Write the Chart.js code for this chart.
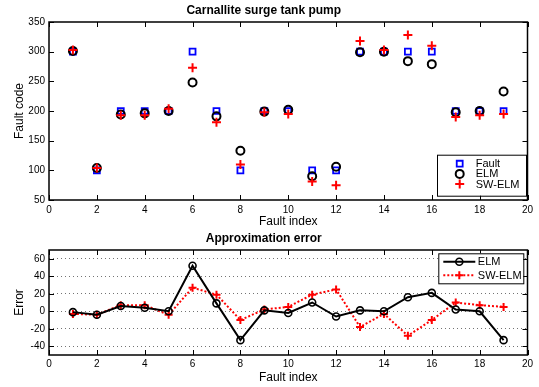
<!DOCTYPE html>
<html lang="en">
<head>
    <meta charset="UTF-8">
    <title>Carnallite surge tank pump</title>
    <script src="https://cdn.jsdelivr.net/npm/chart.js"></script>
    <style>
        body { margin: 0; background: #fff; }
        .plot { position: absolute; left: 0; width: 539px; }
        #top { top: 0; height: 229px; }
        #bottom { top: 229px; height: 158px; }
    </style>
</head>
<body>
    <div class="plot" id="top"><canvas id="faultChart"></canvas></div>
    <div class="plot" id="bottom"><canvas id="errorChart"></canvas></div>

    <script>
        // values
        const faultIndex = [1, 2, 3, 4, 5, 6, 7, 8, 9, 10, 11, 12, 13, 14, 15, 16, 17, 18, 19];
        const faultCode  = [300, 100, 200, 200, 200, 300, 200, 100, 200, 200, 100, 100, 300, 300, 300, 300, 200, 200, 200];
        const elmOut     = [301, 104, 194, 196, 200, 248, 191, 133, 199, 202, 90, 106, 299, 300, 284, 279, 198, 200, 233];
        const swElmOut   = [303, 104, 193, 193, 204, 273, 181, 110, 198, 195, 81, 75, 318, 303, 328, 310, 190, 193, 195];
        const elmErr     = [-1, -4, 6, 4, 0, 52, 9, -33, 1, -2, 10, -6, 1, 0, 16, 21, 2, 0, -33];
        const swElmErr   = [-3, -4, 7, 7, -4, 27, 19, -10, 2, 5, 19, 25, -18, -3, -28, -10, 10, 7, 5];

        const xTicks = [0, 2, 4, 6, 8, 10, 12, 14, 16, 18, 20];
        const codeTicks = [50, 100, 150, 200, 250, 300, 350];
        const errTicks = [-40, -20, 0, 20, 40, 60];

        Chart.defaults.font.family = "'Liberation Sans', Arial, sans-serif";
        Chart.defaults.color = '#000';

        const pts = (ys) => faultIndex.map((x, i) => ({ x: x, y: ys[i] }));
        const fixTicks = (vals) => (scale) => { scale.ticks = vals.map(v => ({ value: v })); };

        // matlab style box with inward ticks
        const axesBox = {
            id: 'axesBox',
            beforeDatasetsDraw(chart) {
                const { ctx, chartArea: a, scales: { x, y } } = chart;
                const tl = 5;
                ctx.save();
                ctx.strokeStyle = '#000';
                ctx.lineWidth = 1;
                ctx.beginPath();
                x.ticks.forEach(t => {
                    const px = Math.round(x.getPixelForValue(t.value)) + 0.5;
                    ctx.moveTo(px, a.bottom); ctx.lineTo(px, a.bottom - tl);
                    ctx.moveTo(px, a.top); ctx.lineTo(px, a.top + tl);
                });
                y.ticks.forEach(t => {
                    const py = Math.round(y.getPixelForValue(t.value)) + 0.5;
                    ctx.moveTo(a.left, py); ctx.lineTo(a.left + tl, py);
                    ctx.moveTo(a.right, py); ctx.lineTo(a.right - tl, py);
                });
                ctx.stroke();
                ctx.lineWidth = 1.5;
                ctx.strokeRect(a.left, a.top, a.right - a.left, a.bottom - a.top);
                ctx.restore();
            }
        };

        function drawMarker(ctx, style, x, y, r, color, w) {
            ctx.save();
            ctx.strokeStyle = color;
            ctx.lineWidth = w;
            ctx.beginPath();
            if (style === 'rect') {
                const s = r * Math.SQRT1_2;
                ctx.rect(x - s, y - s, 2 * s, 2 * s);
            } else if (style === 'circle') {
                ctx.arc(x, y, r, 0, Math.PI * 2);
            } else {
                ctx.moveTo(x - r, y); ctx.lineTo(x + r, y);
                ctx.moveTo(x, y - r); ctx.lineTo(x, y + r);
            }
            ctx.stroke();
            ctx.restore();
        }

        // legend with a frame, placed inside the axes
        function boxLegend(cfg) {
            return {
                id: 'boxLegend',
                afterDraw(chart) {
                    const { ctx, chartArea: a } = chart;
                    const x0 = a.right - cfg.right - cfg.width;
                    const y0 = cfg.top != null ? a.top + cfg.top : a.bottom - cfg.bottom - cfg.height;
                    ctx.save();
                    ctx.fillStyle = '#fff';
                    ctx.fillRect(x0, y0, cfg.width, cfg.height);
                    ctx.strokeStyle = '#000';
                    ctx.lineWidth = 1;
                    ctx.strokeRect(x0 + 0.5, y0 + 0.5, cfg.width, cfg.height);
                    ctx.font = "11px 'Liberation Sans', Arial, sans-serif";
                    ctx.textBaseline = 'middle';
                    ctx.fillStyle = '#000';
                    cfg.items.forEach((it, i) => {
                        const cy = y0 + cfg.first + i * cfg.step;
                        if (it.dash) {
                            ctx.save();
                            ctx.strokeStyle = it.color;
                            ctx.lineWidth = 2;
                            ctx.setLineDash(it.dash);
                            ctx.beginPath();
                            ctx.moveTo(x0 + cfg.lineFrom, cy);
                            ctx.lineTo(x0 + cfg.lineTo, cy);
                            ctx.stroke();
                            ctx.restore();
                        }
                        drawMarker(ctx, it.style, x0 + cfg.markX, cy, it.r, it.color, it.w);
                        ctx.fillText(it.label, x0 + cfg.textX, cy + 0.5);
                    });
                    ctx.restore();
                }
            };
        }

        const tickFont = { size: 10 };
        const labelFont = { size: 12 };

        new Chart(document.getElementById('faultChart'), {
            type: 'scatter',
            data: {
                datasets: [
                    { label: 'Fault', data: pts(faultCode), order: 3, pointStyle: 'rect', pointRadius: 4.2,
                      pointBorderColor: '#0000ff', pointBackgroundColor: 'rgba(0,0,0,0)', pointBorderWidth: 1.8 },
                    { label: 'ELM', data: pts(elmOut), order: 2, pointStyle: 'circle', pointRadius: 4,
                      pointBorderColor: '#000', pointBackgroundColor: 'rgba(0,0,0,0)', pointBorderWidth: 2 },
                    { label: 'SW-ELM', data: pts(swElmOut), order: 1, pointStyle: 'cross', pointRadius: 4.5,
                      pointBorderColor: '#ff0000', pointBackgroundColor: 'rgba(0,0,0,0)', pointBorderWidth: 2 }
                ]
            },
            options: {
                responsive: true,
                maintainAspectRatio: false,
                animation: false,
                layout: { padding: { left: 0, right: 11.5, top: 0, bottom: 0 } },
                plugins: {
                    legend: { display: false },
                    tooltip: { enabled: false },
                    title: { display: true, text: 'Carnallite surge tank pump', font: { size: 12, weight: 'bold' },
                             padding: { top: 3, bottom: 4.6 } }
                },
                scales: {
                    x: {
                        type: 'linear', min: 0, max: 20,
                        afterBuildTicks: fixTicks(xTicks),
                        afterFit: (s) => { s.height = 29; },
                        grid: { display: false, drawTicks: false }, border: { display: false },
                        ticks: { font: tickFont, padding: 4, maxRotation: 0 },
                        title: { display: true, text: 'Fault index', font: labelFont, padding: { top: 0, bottom: 0 } }
                    },
                    y: {
                        min: 50, max: 350,
                        afterBuildTicks: fixTicks(codeTicks),
                        afterFit: (s) => { s.width = 49; },
                        grid: { display: false, drawTicks: false }, border: { display: false },
                        ticks: { font: tickFont, padding: 4 },
                        title: { display: true, text: 'Fault code', font: labelFont, padding: { top: 12, bottom: 0 } }
                    }
                }
            },
            plugins: [axesBox, boxLegend({
                width: 89, height: 41, right: 1.5, bottom: 4.3,
                first: 9, step: 10.2, markX: 22.7, textX: 38.7,
                items: [
                    { label: 'Fault', style: 'rect', r: 4.2, color: '#0000ff', w: 1.8 },
                    { label: 'ELM', style: 'circle', r: 4, color: '#000', w: 2 },
                    { label: 'SW-ELM', style: 'cross', r: 4.5, color: '#ff0000', w: 2 }
                ]
            })]
        });

        new Chart(document.getElementById('errorChart'), {
            type: 'scatter',
            data: {
                datasets: [
                    { label: 'ELM', data: pts(elmErr), showLine: true, borderColor: '#000', borderWidth: 2,
                      pointStyle: 'circle', pointRadius: 3.5, pointBorderColor: '#000',
                      pointBackgroundColor: 'rgba(0,0,0,0)', pointBorderWidth: 1.6 },
                    { label: 'SW-ELM', data: pts(swElmErr), showLine: true, borderColor: '#ff0000', borderWidth: 2,
                      borderDash: [2, 2], pointStyle: 'cross', pointRadius: 4, pointBorderColor: '#ff0000',
                      pointBackgroundColor: 'rgba(0,0,0,0)', pointBorderWidth: 2 }
                ]
            },
            options: {
                responsive: true,
                maintainAspectRatio: false,
                animation: false,
                layout: { padding: { left: 0, right: 11.5, top: 0, bottom: 0 } },
                plugins: {
                    legend: { display: false },
                    tooltip: { enabled: false },
                    title: { display: true, text: 'Approximation error', font: { size: 12, weight: 'bold' },
                             padding: { top: 2.1, bottom: 4.5 } }
                },
                scales: {
                    x: {
                        type: 'linear', min: 0, max: 20,
                        afterBuildTicks: fixTicks(xTicks),
                        afterFit: (s) => { s.height = 32; },
                        grid: { display: false, drawTicks: false }, border: { display: false },
                        ticks: { font: tickFont, padding: 3, maxRotation: 0 },
                        title: { display: true, text: 'Fault index', font: labelFont, padding: { top: 0, bottom: 2 } }
                    },
                    y: {
                        min: -50, max: 70,
                        afterBuildTicks: fixTicks(errTicks),
                        afterFit: (s) => { s.width = 49; },
                        grid: { display: true, drawTicks: false, color: 'rgba(0,0,0,0.55)', lineWidth: 1 },
                        border: { display: false, dash: [1, 3] },
                        ticks: { font: tickFont, padding: 4 },
                        title: { display: true, text: 'Error', font: labelFont, padding: { top: 12, bottom: 0 } }
                    }
                }
            },
            plugins: [axesBox, boxLegend({
                width: 85, height: 30, right: 4.2, top: 3.3,
                first: 8.5, step: 13.5, markX: 21, textX: 39.5, lineFrom: 5, lineTo: 37,
                items: [
                    { label: 'ELM', style: 'circle', r: 3.5, color: '#000', w: 1.6, dash: [] },
                    { label: 'SW-ELM', style: 'cross', r: 4, color: '#ff0000', w: 2, dash: [2, 2] }
                ]
            })]
        });
    </script>
</body>
</html>
